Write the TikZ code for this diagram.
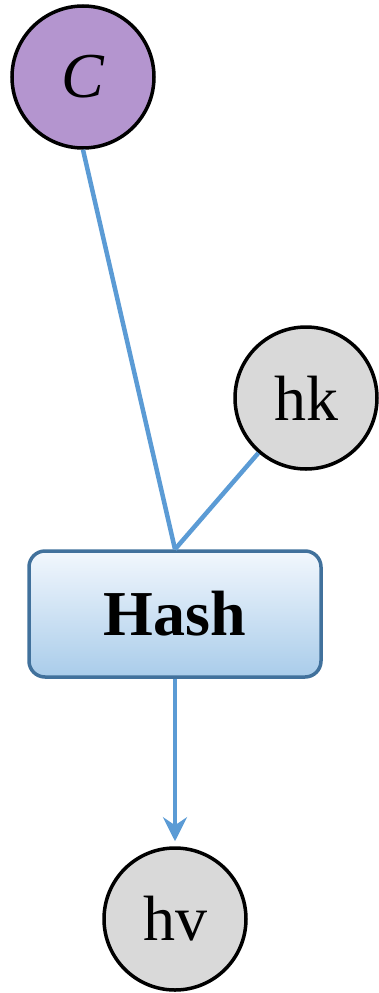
\documentclass[tikz,border=0pt]{standalone}
\usepackage{fontspec}
\setmainfont{Liberation Serif}
\usetikzlibrary{arrows.meta}
\definecolor{cpurple}{HTML}{B495CF}
\definecolor{cgray}{HTML}{D9D9D9}
\definecolor{cblue}{HTML}{5B9BD5}
\definecolor{cborder}{HTML}{41719C}
\definecolor{ctop}{HTML}{F2F7FD}
\definecolor{cbot}{HTML}{A9CCEA}
\tikzset{
  circ/.style={circle, draw=black, line width=3.5pt, minimum size=142pt, inner sep=0pt, font=\fontsize{64}{64}\selectfont},
  hashbox/.style={rounded corners=16pt, draw=cborder, line width=3.5pt, top color=ctop, bottom color=cbot, minimum width=292pt, minimum height=126pt, inner sep=0pt, font=\fontsize{64}{64}\selectfont\bfseries},
  conn/.style={draw=cblue, line width=4.5pt},
}
\begin{document}
\begin{tikzpicture}[x=1pt,y=-1pt]
\useasboundingbox (0,0) rectangle (379,993);
\node[circ, fill=cpurple] (C) at (83,77) {\textit{C}};
\node[circ, fill=cgray] (hk) at (306,398) {hk};
\node[hashbox] (hash) at (175,614) {Hash};
\node[circ, fill=cgray] (hv) at (175,919) {hv};
\draw[conn] (C.south) -- (hash.north);
\draw[conn] (hk) -- (hash.north);
\draw[conn, -{Stealth[length=24pt,width=24pt,inset=8pt]}, shorten >=5pt] (hash) -- (hv);
\end{tikzpicture}
\end{document}
